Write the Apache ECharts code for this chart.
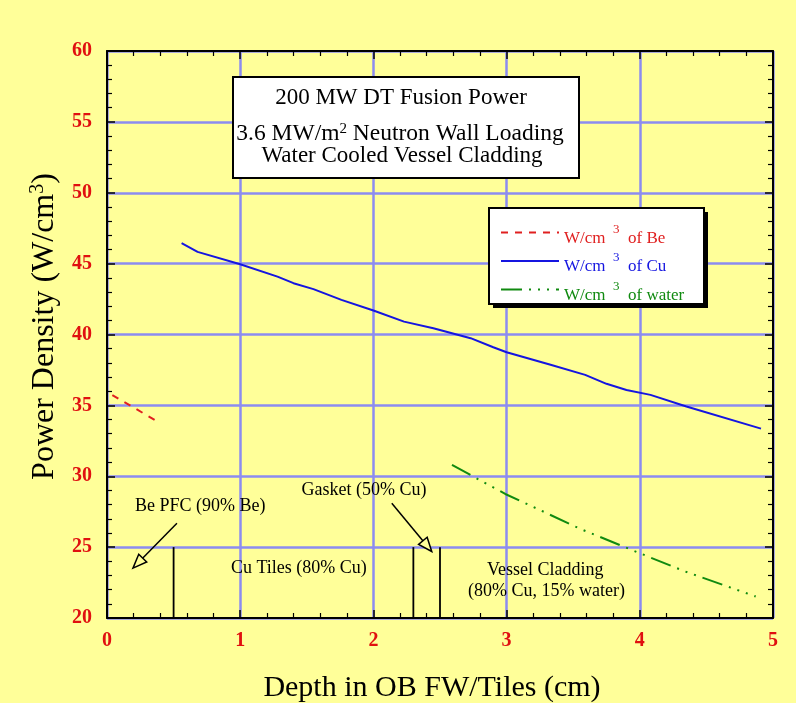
<!DOCTYPE html>
<html>
<head>
<meta charset="utf-8">
<script src="https://cdn.jsdelivr.net/npm/echarts@6/dist/echarts.min.js"></script>
<style>
  html, body { margin: 0; padding: 0; background: #ffff99; }
  #chart { width: 796px; height: 703px; }
</style>
</head>
<body>
<div id="chart"></div>
<script>
// Power density through the outboard first wall / tiles
const beDepth = [0.04, 0.39];
const beDensity = [35.73, 33.8];

const cuDepth = [0.56, 0.68, 1.0, 1.28, 1.4, 1.55, 1.76, 2.0, 2.23, 2.45, 2.73, 2.9, 3.0, 3.33, 3.59, 3.75, 3.9, 4.08, 4.35, 4.91];
const cuDensity = [46.44, 45.83, 44.96, 44.08, 43.62, 43.2, 42.44, 41.69, 40.91, 40.44, 39.74, 39.1, 38.75, 37.86, 37.15, 36.52, 36.09, 35.74, 34.92, 33.36];

const waterDepth = [2.59, 2.99, 3.14, 3.55, 3.95, 4.34, 4.87];
const waterDensity = [30.8, 28.75, 28.1, 26.3, 24.76, 23.28, 21.52];

const seriesNames = ['W/cm3 of Be', 'W/cm3 of Cu', 'W/cm3 of water'];
const xTicks = [0, 1, 2, 3, 4, 5];
const yTicks = [20, 25, 30, 35, 40, 45, 50, 55, 60];

// region boundaries (depth, cm) drawn from 20 to 25 W/cm3
const boundaryDepth = [0.5, 2.3, 2.5];
const boundaryRange = [20, 25];

// region labels: [depth, density, text]
const regionLabels = [
  [0.70, 27.86, 'Be PFC (90% Be)'],
  [1.44, 23.52, 'Cu Tiles (80% Cu)'],
  [1.93, 29.0, 'Gasket (50% Cu)'],
  [3.29, 23.4, 'Vessel Cladding'],
  [3.30, 21.87, '(80% Cu, 15% water)']
];
// pointer arrows: [fromDepth, fromDensity, toDepth, toDensity]
const pointerArrows = [
  [0.525, 26.69, 0.195, 23.52],
  [2.138, 28.1, 2.438, 24.69]
];

const serif = '"Liberation Serif", "Times New Roman", serif';
const gridBlue = '#8c8cf0';
const tickRed = '#e01010';
const beColor = '#e02020';
const cuColor = '#1515e0';
const waterColor = '#108a10';

function pairs(xs, ys) { return xs.map((x, i) => [x, ys[i]]); }

const chart = echarts.init(document.getElementById('chart'), null, { renderer: 'canvas' });

function legendStyles(key, color) {
  const r = {};
  r[key] = { color: color, fontFamily: serif, fontSize: 17, padding: [12, 0, 0, 0], verticalAlign: 'top' };
  r[key + 's'] = { color: color, fontFamily: serif, fontSize: 13, padding: [5, 0, 0, 0], verticalAlign: 'top' };
  return r;
}
const legendRich = Object.assign({}, legendStyles('r', beColor), legendStyles('b', cuColor), legendStyles('g', waterColor));
const legendKey = { 'W/cm3 of Be': ['r', 'Be'], 'W/cm3 of Cu': ['b', 'Cu'], 'W/cm3 of water': ['g', 'water'] };

function axisCommon(extra) {
  return Object.assign({
    axisLine: { show: true, onZero: false, lineStyle: { color: '#000', width: 2 } },
    axisTick: { show: true, inside: true, length: 8, lineStyle: { color: '#000', width: 1.5 } },
    minorTick: { show: true, splitNumber: 5, length: 5, lineStyle: { color: '#000', width: 1.2 } },
    splitLine: { show: false }
  }, extra);
}

const option = {
  backgroundColor: '#ffff99',
  animation: false,
  grid: { left: 107, right: 23, top: 51, bottom: 85, containLabel: false, outerBoundsMode: 'none' },
  legend: {
    data: seriesNames,
    orient: 'vertical',
    left: 488,
    top: 207,
    padding: [16, 12, 8, 12],
    itemWidth: 58,
    itemHeight: 14,
    itemGap: 4.5,
    itemStyle: { opacity: 0 },
    textStyle: { fontFamily: serif, fontSize: 17, rich: legendRich },
    formatter: function (name) {
      const k = legendKey[name];
      return '{' + k[0] + '|W/cm }{' + k[0] + 's| 3}{' + k[0] + '|  of ' + k[1] + '}';
    },
    z: 10
  },
  xAxis: [
    axisCommon({
      type: 'value', min: xTicks[0], max: xTicks[xTicks.length - 1], interval: 1, position: 'bottom',
      name: 'Depth in OB FW/Tiles (cm)', nameLocation: 'middle', nameGap: 55,
      nameTextStyle: { fontFamily: serif, fontSize: 30, color: '#000', padding: [0, 16, 0, 0] },
      axisLabel: { color: tickRed, fontFamily: serif, fontWeight: 'bold', fontSize: 20, margin: 13 },
      splitLine: { show: true, lineStyle: { color: gridBlue, width: 2.5 } }
    }),
    axisCommon({
      type: 'value', min: xTicks[0], max: xTicks[xTicks.length - 1], interval: 1, position: 'top',
      axisLabel: { show: false }
    })
  ],
  yAxis: [
    axisCommon({
      type: 'value', min: yTicks[0], max: yTicks[yTicks.length - 1], interval: 5, position: 'left',
      name: '{a|Power Density (W/cm}{s|3}{a|)}', nameLocation: 'middle', nameGap: 45, nameRotate: 90,
      nameTextStyle: {
        color: '#000',
        padding: [0, 0, 0, 16],
        rich: {
          a: { fontFamily: serif, fontSize: 32, color: '#000' },
          s: { fontFamily: serif, fontSize: 20, color: '#000', verticalAlign: 'top', padding: [0, 0, 14, 0] }
        }
      },
      axisLabel: { color: tickRed, fontFamily: serif, fontWeight: 'bold', fontSize: 20, margin: 15 },
      splitLine: { show: true, lineStyle: { color: gridBlue, width: 2.5 } }
    }),
    axisCommon({
      type: 'value', min: yTicks[0], max: yTicks[yTicks.length - 1], interval: 5, position: 'right',
      axisLabel: { show: false }
    })
  ],
  graphic: [
    // legend frame with its drop shadow
    { type: 'rect', left: 493, top: 212, z: 8, shape: { width: 215, height: 96 }, style: { fill: '#000' } },
    { type: 'rect', left: 488, top: 207, z: 9, shape: { width: 215, height: 96 }, style: { fill: '#fff', stroke: '#000', lineWidth: 2 } },
    // caption box
    { type: 'rect', left: 232, top: 76, z: 20, shape: { width: 346, height: 101 }, style: { fill: '#fff', stroke: '#000', lineWidth: 2 } },
    { type: 'text', x: 401, y: 97.5, z: 21, style: { text: '200 MW DT Fusion Power', font: '23px ' + serif, fill: '#000', align: 'center', verticalAlign: 'middle' } },
    { type: 'text', x: 400, y: 134, z: 21, style: {
        text: '{t|3.6 MW/m}{s|2}{t| Neutron Wall Loading}', align: 'center', verticalAlign: 'middle',
        rich: {
          t: { fontFamily: serif, fontSize: 23.5, fill: '#000' },
          s: { fontFamily: serif, fontSize: 15, fill: '#000', verticalAlign: 'top', padding: [0, 0, 9, 0] }
        }
      } },
    { type: 'text', x: 402, y: 156, z: 21, style: { text: 'Water Cooled Vessel Cladding', font: '23px ' + serif, fill: '#000', align: 'center', verticalAlign: 'middle' } }
  ],
  series: [
    {
      name: seriesNames[0], type: 'line', data: pairs(beDepth, beDensity), symbol: 'none',
      lineStyle: { color: beColor, width: 2, type: [7, 7] }, itemStyle: { color: beColor }, z: 5
    },
    {
      name: seriesNames[1], type: 'line', data: pairs(cuDepth, cuDensity), symbol: 'none',
      lineStyle: { color: cuColor, width: 2 }, itemStyle: { color: cuColor }, z: 5
    },
    {
      name: seriesNames[2], type: 'line', data: pairs(waterDepth, waterDensity), symbol: 'none',
      lineStyle: { color: waterColor, width: 2, type: [21, 7, 2, 7, 2, 7, 2, 7] }, itemStyle: { color: waterColor }, z: 5
    },
    {
      name: 'boundaries', type: 'custom', silent: true, z: 6,
      data: boundaryDepth.map(d => [d, boundaryRange[0], boundaryRange[1]]),
      renderItem: function (params, api) {
        const p0 = api.coord([api.value(0), api.value(1)]);
        const p1 = api.coord([api.value(0), api.value(2)]);
        return { type: 'line', shape: { x1: p0[0], y1: p0[1], x2: p1[0], y2: p1[1] }, style: { stroke: '#000', lineWidth: 1.8 } };
      }
    },
    {
      name: 'labels', type: 'custom', silent: true, z: 7,
      data: regionLabels,
      renderItem: function (params, api) {
        const item = regionLabels[params.dataIndex];
        const p = api.coord([item[0], item[1]]);
        return { type: 'text', x: p[0], y: p[1], style: { text: item[2], font: '18px ' + serif, fill: '#000', align: 'center', verticalAlign: 'middle' } };
      }
    },
    {
      name: 'arrows', type: 'custom', silent: true, z: 7,
      data: pointerArrows,
      renderItem: function (params, api) {
        const a = api.coord([api.value(0), api.value(1)]);
        const b = api.coord([api.value(2), api.value(3)]);
        const ang = Math.atan2(b[1] - a[1], b[0] - a[0]);
        const len = 15, half = 0.38;
        const l = [b[0] - len * Math.cos(ang - half), b[1] - len * Math.sin(ang - half)];
        const r = [b[0] - len * Math.cos(ang + half), b[1] - len * Math.sin(ang + half)];
        const m = [b[0] - len * 0.8 * Math.cos(ang), b[1] - len * 0.8 * Math.sin(ang)];
        return {
          type: 'group',
          children: [
            { type: 'line', shape: { x1: a[0], y1: a[1], x2: m[0], y2: m[1] }, style: { stroke: '#000', lineWidth: 1.5 } },
            { type: 'polygon', shape: { points: [b, l, r] }, style: { fill: '#ffff99', stroke: '#000', lineWidth: 1.5 } }
          ]
        };
      }
    }
  ]
};

chart.setOption(option);
</script>
</body>
</html>
